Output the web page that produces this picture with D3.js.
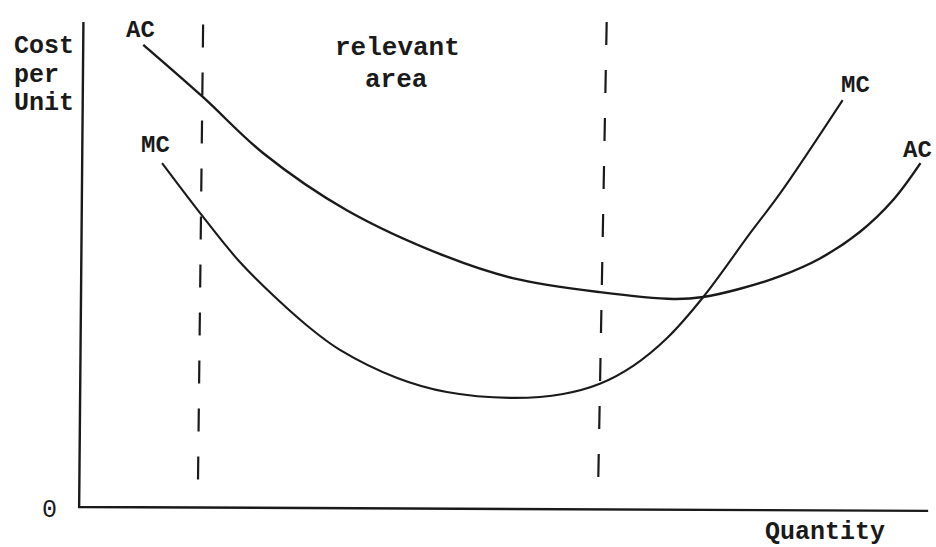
<!DOCTYPE html>
<html>
<head>
<meta charset="utf-8">
<script src="https://cdn.jsdelivr.net/npm/d3@7"></script>
<style>
  html, body { margin: 0; padding: 0; background: #fff; }
  svg { display: block; }
  text { font-family: "Liberation Mono", "DejaVu Sans Mono", monospace; fill: #1a1a1a; }
</style>
</head>
<body>
<svg id="chart" width="936" height="547"></svg>
<script>
// ---- data (quantity units 0-100, cost units 0-100) ----
const acQuantity = [7.4, 14.4, 21.4, 31.2, 42.9, 50.6, 60.8, 69.4, 72.9, 77.2, 81.9, 86.6, 91.2, 95.1, 98.3];
const acCost     = [95.3, 84.5, 73.0, 61.2, 51.6, 47.2, 44.3, 42.9, 43.3, 45.0, 47.6, 51.3, 56.7, 63.3, 70.9];

const mcQuantity = [9.6, 14.4, 18.7, 23.4, 26.9, 30.4, 37.1, 42.9, 50.6, 56.5, 60.8, 64.7, 68.7, 72.9, 78.4, 81.9, 89.2];
const mcCost     = [70.9, 59.8, 50.5, 42.3, 36.9, 32.4, 26.6, 23.7, 22.5, 23.3, 25.4, 29.1, 34.9, 43.3, 56.5, 64.7, 83.9];

// boundaries of the "relevant area" (top and bottom quantity, cost span)
const boundaryTopQ    = [14.4, 61.6];
const boundaryBottomQ = [13.8, 60.6];
const boundaryTopC    = [99.5, 100];
const boundaryBottomC = [5.2, 4.1];

const yAxisLabel = ["Cost", "per", "Unit"];
const xAxisLabel = "Quantity";
const originLabel = "0";
const areaLabel = ["relevant", "area"];

// ---- scales ----
const x = d3.scaleLinear().domain([0, 100]).range([80, 935]);
const y = d3.scaleLinear().domain([0, 100]).range([507, 22]);

const svg = d3.select("#chart");

// axes
svg.append("path")
  .attr("d", `M${x(0.4)},${y(100)} L${x(-0.1)},${y(0)} L${x(99.2)},${y(-0.8)}`)
  .attr("fill", "none").attr("stroke", "#1a1a1a").attr("stroke-width", 2.4);

// dashed boundaries
boundaryTopQ.forEach((q, i) => {
  svg.append("line")
    .attr("x1", x(q)).attr("y1", y(boundaryTopC[i]))
    .attr("x2", x(boundaryBottomQ[i])).attr("y2", y(boundaryBottomC[i]))
    .attr("stroke", "#1a1a1a").attr("stroke-width", 2.2)
    .attr("stroke-dasharray", "23,25");
});

const line = d3.line()
  .x(d => x(d[0])).y(d => y(d[1]))
  .curve(d3.curveCatmullRom.alpha(0.5));

const acData = acQuantity.map((q, i) => [q, acCost[i]]);
const mcData = mcQuantity.map((q, i) => [q, mcCost[i]]);

svg.append("path").attr("d", line(acData))
  .attr("fill", "none").attr("stroke", "#1a1a1a").attr("stroke-width", 2.4);
svg.append("path").attr("d", line(mcData))
  .attr("fill", "none").attr("stroke", "#1a1a1a").attr("stroke-width", 2.1);

// labels
const fs = 25;
yAxisLabel.forEach((t, i) => {
  svg.append("text").attr("x", 14).attr("y", 53 + i * 28.5)
    .attr("font-size", fs).attr("font-weight", "bold").text(t);
});
svg.append("text").attr("x", 42).attr("y", 517).attr("font-size", fs).text(originLabel);
svg.append("text").attr("x", 765).attr("y", 539).attr("font-size", fs).attr("font-weight", "bold").text(xAxisLabel);

svg.append("text").attr("x", 335).attr("y", 55).attr("font-size", 26).attr("font-weight", "bold").text(areaLabel[0]);
svg.append("text").attr("x", 365).attr("y", 87).attr("font-size", 26).attr("font-weight", "bold").text(areaLabel[1]);

svg.append("text").attr("x", 126).attr("y", 37).attr("font-size", 24).attr("font-weight", "bold").text("AC");
svg.append("text").attr("x", 141).attr("y", 152).attr("font-size", 24).attr("font-weight", "bold").text("MC");
svg.append("text").attr("x", 841).attr("y", 92).attr("font-size", 24).attr("font-weight", "bold").text("MC");
svg.append("text").attr("x", 903).attr("y", 157).attr("font-size", 24).attr("font-weight", "bold").text("AC");
</script>
</body>
</html>
